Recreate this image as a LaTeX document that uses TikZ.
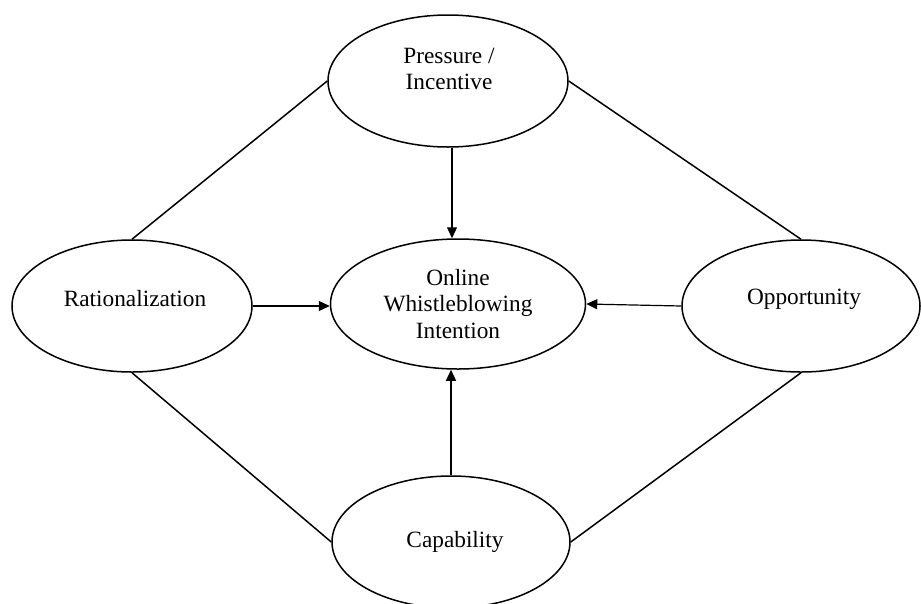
\documentclass[tikz,border=0pt]{standalone}
\usepackage{fontspec}
\setmainfont{Liberation Serif}
\usetikzlibrary{shapes.geometric,arrows.meta}
\begin{document}
\begin{tikzpicture}[x=1pt,y=-1pt,
  oval/.style={draw,ellipse,line width=1.5pt,inner sep=0pt},
  lbl/.style={font=\fontsize{23.3}{26.7}\selectfont,align=center,inner sep=0pt},
  link/.style={line width=1.5pt},
  arr/.style={line width=1.2pt,-{Triangle[length=11pt,width=10pt]}}]
\useasboundingbox (0,0) rectangle (921,603);
\clip (0,0) rectangle (921,603);
\fill[white] (0,0) rectangle (921,603);

% factor ellipses
\node[oval,minimum width=240pt,minimum height=132pt] (P) at (448,81) {};
\node[oval,minimum width=255pt,minimum height=130pt] (C) at (458,304) {};
\node[oval,minimum width=240pt,minimum height=132pt] (R) at (132,306) {};
\node[oval,minimum width=238pt,minimum height=132pt] (O) at (801,306) {};
\node[oval,minimum width=238pt,minimum height=132pt] (K) at (451,542) {};

% labels
\node[lbl] (Pt) at (449,69) {Pressure /\\Incentive};
\node[lbl] (Ct) at (458,304) {Online\\Whistleblowing\\Intention};
\node[lbl] (Rt) at (135,299) {Rationalization};
\node[lbl] (Ot) at (804,299) {Opportunity};
\node[lbl] (Kt) at (455,542) {Capability};

% diamond of links
\draw[link] (P.west) -- (R.north);
\draw[link] (P.east) -- (O.north);
\draw[link] (R.south) -- (K.west);
\draw[link] (K.east) -- (O.south);

% influences on intention
\draw[arr] ([xshift=4pt]P.south) -- ([xshift=4pt]P.south |- C.north);
\draw[arr] (R.east) -- (R.east -| C.west);
\draw[arr] (O.west) -- (C.east);
\draw[arr] (K.north) -- (K.north |- C.south);
\end{tikzpicture}
\end{document}
